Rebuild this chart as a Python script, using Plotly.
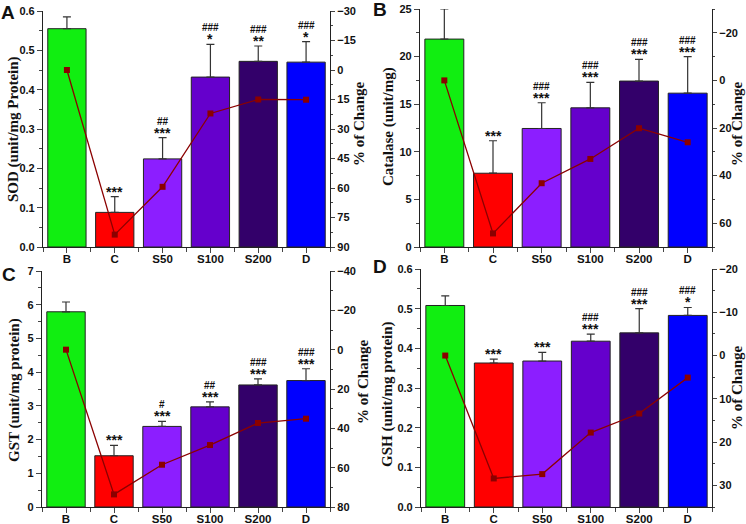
import plotly.graph_objects as go

groups = ["B", "C", "S50", "S100", "S200", "D"]
bar_colors = ["#11ee11", "#ff0000", "#8c1eff", "#6500cc", "#33006a", "#0000ff"]

# A: SOD
sod_mean = [0.555, 0.088, 0.224, 0.432, 0.472, 0.470]
sod_sd = [0.030, 0.040, 0.054, 0.083, 0.039, 0.052]
sod_change = [0, 83.7, 59.4, 22.1, 15.0, 15.1]
sod_stars = ["", "***", "***", "*", "**", "*"]
sod_hash = ["", "", "##", "###", "###", "###"]

# B: Catalase
cat_mean = [21.84, 7.75, 12.45, 14.62, 17.43, 16.16]
cat_sd = [3.16, 3.41, 2.70, 2.68, 2.27, 3.83]
cat_change = [0, 64.3, 43.2, 33.0, 20.1, 26.0]
cat_stars = ["", "***", "***", "***", "***", "***"]
cat_hash = ["", "", "###", "###", "###", "###"]

# C: GST
gst_mean = [5.79, 1.52, 2.39, 2.97, 3.62, 3.75]
gst_sd = [0.29, 0.31, 0.15, 0.15, 0.18, 0.35]
gst_change = [0, 73.6, 58.5, 48.5, 37.3, 35.1]
gst_stars = ["", "***", "***", "***", "***", "***"]
gst_hash = ["", "", "#", "##", "###", "###"]

# D: GSH
gsh_mean = [0.508, 0.363, 0.368, 0.418, 0.439, 0.483]
gsh_sd = [0.024, 0.010, 0.022, 0.018, 0.061, 0.020]
gsh_change = [0, 28.4, 27.4, 17.8, 13.4, 5.1]
gsh_stars = ["", "***", "***", "***", "***", "*"]
gsh_hash = ["", "", "", "###", "###", "###"]

W, H = 746, 524
idx = list(range(len(groups)))

panels = [
    dict(letter="A", mean=sod_mean, sd=sod_sd, chg=sod_change, stars=sod_stars, hashes=sod_hash,
         title="SOD (unit/mg Protein)", yr=[0, 0.6], dt=0.1, fmt=".1f", rr=[90, -30], rdt=15,
         box=(43, 330, 11, 247), lpos=(8, 12), ltit=(13, 129), rtit=(359, 124)),
    dict(letter="B", mean=cat_mean, sd=cat_sd, chg=cat_change, stars=cat_stars, hashes=cat_hash,
         title="Catalase (unit/mg)", yr=[0, 25], dt=5, fmt="d", rr=[70, -30], rdt=20,
         box=(420, 712, 9, 247), lpos=(380, 9), ltit=(388, 127), rtit=(737, 124)),
    dict(letter="C", mean=gst_mean, sd=gst_sd, chg=gst_change, stars=gst_stars, hashes=gst_hash,
         title="GST (unit/mg protein)", yr=[0, 7], dt=1, fmt="d", rr=[80, -40], rdt=20,
         box=(42, 330, 271, 507), lpos=(9, 274), ltit=(14, 390), rtit=(363, 382)),
    dict(letter="D", mean=gsh_mean, sd=gsh_sd, chg=gsh_change, stars=gsh_stars, hashes=gsh_hash,
         title="GSH (unit/mg protein)", yr=[0, 0.6], dt=0.1, fmt=".1f", rr=[35, -20], rdt=10,
         box=(421, 712, 269, 507), lpos=(380, 266), ltit=(387, 394), rtit=(737, 388)),
]

xtick_font = dict(family="Liberation Sans, Arial", size=11.5, color="#111", weight="bold")
ytick_font = dict(family="Liberation Sans, Arial", size=11, color="#111", weight="bold")
title_font = dict(family="Liberation Serif, Times New Roman", size=15, color="#111")

fig = go.Figure()
layout = {}
annotations = []

for i, p in enumerate(panels):
    n = i + 1
    xa = "x" if n == 1 else f"x{n}"
    ya = "y" if i == 0 else f"y{2 * i + 1}"
    yb = f"y{2 * i + 2}"
    left, right, top, bottom = p["box"]
    xdom = [left / W, right / W]
    ydom = [1 - bottom / H, 1 - top / H]

    fig.add_trace(go.Bar(
        x=idx, y=p["mean"], width=0.8,
        marker=dict(color=bar_colors, line=dict(color="#222", width=1)),
        error_y=dict(type="data", symmetric=False, array=p["sd"], arrayminus=[0] * 6,
                     color="#333", thickness=1.2, width=4),
        xaxis=xa, yaxis=ya, showlegend=False,
    ))
    fig.add_trace(go.Scatter(
        x=idx, y=p["chg"], mode="lines+markers",
        line=dict(color="#8b0000", width=1.3),
        marker=dict(symbol="square", size=6, color="#8b0000"),
        xaxis=xa, yaxis=yb, showlegend=False,
    ))

    layout["xaxis" if n == 1 else f"xaxis{n}"] = dict(
        domain=xdom, anchor=ya, range=[-0.5, 5.5],
        tickvals=idx, ticktext=groups, ticks="outside", ticklen=5, ticklabelstandoff=-4,
        minor=dict(tick0=0.5, dtick=1, ticks="outside", ticklen=4),
        showline=True, linecolor="#222", linewidth=1.2, showgrid=False, zeroline=False,
        tickfont=xtick_font, automargin=False,
    )
    layout["yaxis" if i == 0 else f"yaxis{2 * i + 1}"] = dict(
        domain=ydom, anchor=xa, range=p["yr"], dtick=p["dt"], tickformat=p["fmt"],
        ticks="outside", ticklen=5, minor=dict(dtick=p["dt"] / 2, ticks="outside", ticklen=3),
        showline=True, linecolor="#222", linewidth=1.2, showgrid=False, zeroline=False,
        tickfont=ytick_font, automargin=False,
    )
    layout[f"yaxis{2 * i + 2}"] = dict(
        overlaying=ya, side="right", anchor=xa, range=p["rr"], dtick=p["rdt"], tick0=0,
        ticks="outside", ticklen=4,
        minor=dict(dtick=p["rdt"] / 2, ticks="outside", ticklen=2),
        showline=True, linecolor="#222", linewidth=1.2, showgrid=False, zeroline=False,
        tickfont=ytick_font, automargin=False,
    )

    # axis titles
    for txt, pos in ((p["title"], p["ltit"]), ("% of Change", p["rtit"])):
        annotations.append(dict(
            x=pos[0] / W, y=1 - pos[1] / H, xref="paper", yref="paper",
            text="<b>" + txt + "</b>", textangle=-90, showarrow=False,
            xanchor="center", yanchor="middle", font=title_font,
        ))

    # significance marks above the error bars
    for k in idx:
        top_val = p["mean"][k] + p["sd"][k]
        if p["stars"][k]:
            annotations.append(dict(
                x=k, y=top_val, xref=xa, yref=ya, text="<b>" + p["stars"][k] + "</b>",
                showarrow=False, yanchor="bottom", yshift=-5,
                font=dict(family="Liberation Sans, Arial", size=14, color="#111"),
            ))
        if p["hashes"][k]:
            annotations.append(dict(
                x=k, y=top_val, xref=xa, yref=ya, text="<b>" + p["hashes"][k] + "</b>",
                showarrow=False, yanchor="bottom", yshift=9,
                font=dict(family="Liberation Sans, Arial", size=10, color="#111"),
            ))

    annotations.append(dict(
        x=p["lpos"][0] / W, y=1 - p["lpos"][1] / H, xref="paper", yref="paper",
        text="<b>" + p["letter"] + "</b>", showarrow=False, xanchor="center", yanchor="middle",
        font=dict(family="Liberation Sans, Arial", size=19, color="#111"),
    ))

fig.update_layout(
    width=W, height=H, margin=dict(l=0, r=0, t=0, b=0),
    plot_bgcolor="white", paper_bgcolor="white",
    bargap=0.2, annotations=annotations, **layout,
)

fig.write_html("out.html", config={"displayModeBar": False},
               post_script="document.body.style.margin='0px';")
